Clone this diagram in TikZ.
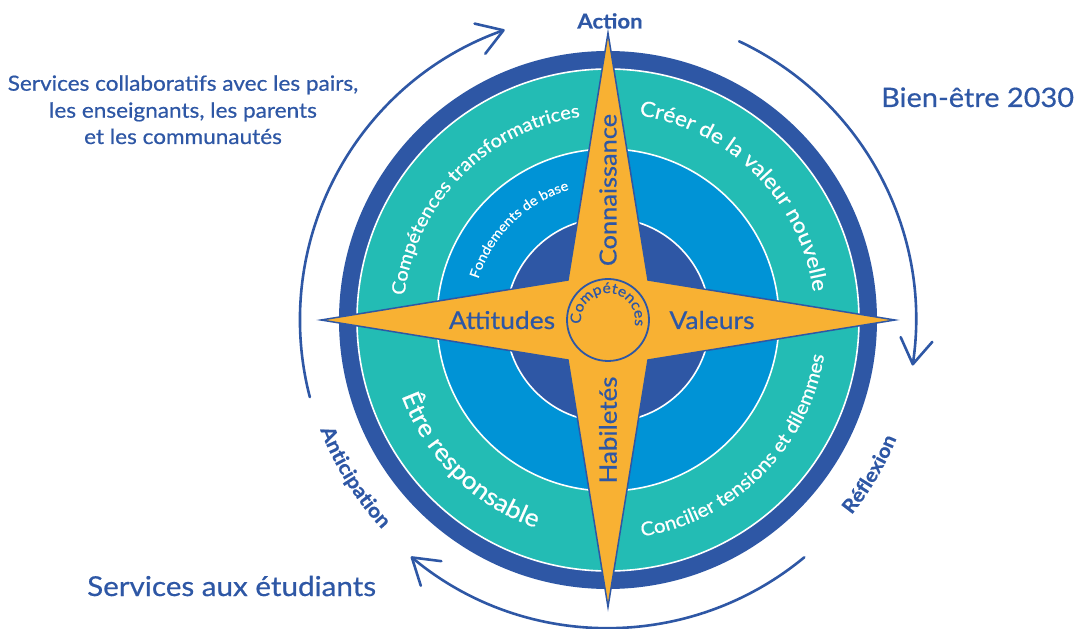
\documentclass[tikz,border=0pt]{standalone}
\usepackage{fontspec}
\setmainfont{Lato}[FakeStretch=1.08, FakeBold=0.6]
\usetikzlibrary{decorations.text,arrows.meta}
\definecolor{cnavy}{RGB}{46,87,165}
\definecolor{cteal}{RGB}{35,188,180}
\definecolor{cblue}{RGB}{0,147,214}
\definecolor{corange}{RGB}{248,177,51}
\newcommand\fsz[1]{\fontsize{#1}{#1}\selectfont}

\begin{document}
\begin{tikzpicture}[x=1pt,y=1pt,
  cyclearrow/.style={draw=cnavy, line width=2.6pt, line cap=round,
    -{Straight Barb[length=25pt,width=32pt,line cap=round,line join=round]}},
  sep/.style={draw=white, line width=1.6pt},
  navytext/.style={text=cnavy, inner sep=0pt},
  ]
\useasboundingbox (-608,-309) rectangle (468,320);

% concentric rings
\fill[cnavy] (0,0) circle[radius=269];
\fill[cteal] (0,0) circle[radius=251];
\fill[cblue] (0,0) circle[radius=171];
\fill[cnavy] (0,0) circle[radius=102];
\draw[sep] (0,0) circle[radius=251] (0,0) circle[radius=171] (0,0) circle[radius=102];

% curved ring labels
\path[decorate, decoration={text along path, text align=center,
  text={|\fsz{18.5}\color{white}|Compétences transformatrices}}]
  (180.5:205) arc[start angle=180.5, end angle=90.5, radius=205];
\path[decorate, decoration={text along path, text align=center,
  text={|\fsz{21}\color{white}|Créer de la valeur nouvelle}}]
  (89.6:207) arc[start angle=89.6, end angle=-0.4, radius=207];
\path[decorate, decoration={text along path, text align=center,
  text={|\fsz{13.5}\color{white}|Fondements de base}}]
  (180:136) arc[start angle=180, end angle=89, radius=136];
\path[decorate, decoration={text along path, text align=center,
  text={|\fsz{24.5}\color{white}|Être responsable}}]
  (180.5:220) arc[start angle=180.5, end angle=270.5, radius=220];
\path[decorate, decoration={text along path, text align=center,
  text={|\fsz{19}\color{white}|Concilier tensions et dilemmes}}]
  (269.8:219) arc[start angle=269.8, end angle=359.8, radius=219];

% compass star
\filldraw[fill=corange, draw=cnavy, line width=1.5pt]
  (0,287) -- (40,40) -- (287,0) -- (40,-40) -- (0,-287) -- (-40,-40) -- (-287,0) -- (-40,40) -- cycle;
\draw[cnavy, line width=1.8pt] (0,0) circle[radius=41];
\path[decorate, decoration={text along path, text align=center,
  text={|\fsz{14.5}\color{cnavy}|Compétences}}]
  (200:27) arc[start angle=200, end angle=-24, radius=27];

\node[navytext, font=\fsz{24.5}, anchor=base] (attitudes) at (-106,-9) {Attitudes};
\node[navytext, font=\fsz{24.5}, anchor=base] (valeurs) at (104,-9) {Valeurs};
\node[navytext, font=\fsz{23.5}, rotate=90] (connaissance) at (0,130) {Connaissance};
\node[navytext, font=\fsz{24}, rotate=90] (habiletes) at (0,-110) {Habiletés};

% cycle arrows around the compass
\draw[cyclearrow] (194.5:308) arc[start angle=194.5, end angle=109.6, radius=308];
\draw[cyclearrow] (64.8:308) arc[start angle=64.8, end angle=-8.5, radius=308];
\draw[cyclearrow] (-50.4:308) arc[start angle=-50.4, end angle=-129.8, radius=308];

% stage names on the cycle
\node[navytext, font=\bfseries\fsz{20.5}, anchor=base] (action) at (2,291.5) {Action};
\path[decorate, decoration={text along path, text align=center,
  text={|\bfseries\fsz{20}\color{cnavy}|Anticipation}}]
  (181.85:308) arc[start angle=181.85, end angle=241.85, radius=308];
\path[decorate, decoration={text along path, text align=center,
  text={|\bfseries\fsz{19.5}\color{cnavy}|Réflexion}}]
  (299.5:312) arc[start angle=299.5, end angle=359.5, radius=312];

% surrounding captions
\node[navytext, font=\fsz{26.8}, anchor=base west] (bien) at (273,213) {Bien-être 2030};
\node[navytext, font=\fsz{27.4}, anchor=base west] (etudiants) at (-521,-276) {Services aux étudiants};
\node[navytext, font=\fsz{20.9}, anchor=base] (collabA) at (-425,229.3) {Services collaboratifs avec les pairs,};
\node[navytext, font=\fsz{20.9}, anchor=base] (collabB) at (-425,202.3) {les enseignants, les parents};
\node[navytext, font=\fsz{20.9}, anchor=base] (collabC) at (-425,176) {et les communautés};
\end{tikzpicture}
\end{document}
